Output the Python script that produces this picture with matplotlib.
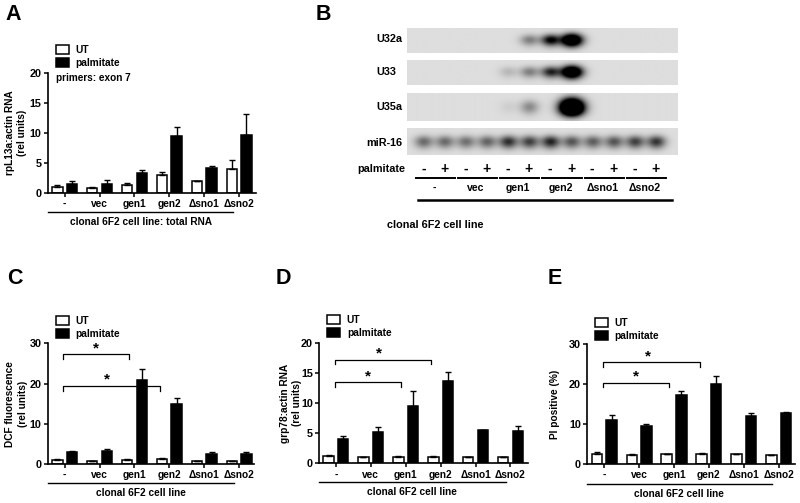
import numpy as np
import matplotlib
matplotlib.use('Agg')
import matplotlib.pyplot as plt

plt.rcParams['font.family'] = ['Liberation Sans', 'DejaVu Sans']
plt.rcParams['font.weight'] = 'bold'
plt.rcParams['font.size'] = 7.3

W, H = 800, 503

groups = ['-', 'vec', 'gen1', 'gen2', 'Δsno1', 'Δsno2']

# panel A
a_ut = [1.0, 0.8, 1.3, 2.9, 1.9, 4.0]
a_ut_err = [0.3, 0.2, 0.3, 0.6, 0.05, 1.4]
a_pal = [1.5, 1.4, 3.3, 9.4, 4.1, 9.6]
a_pal_err = [0.5, 0.8, 0.5, 1.6, 0.4, 3.6]

# panel C
c_ut = [1.0, 0.7, 1.0, 1.3, 0.7, 0.7]
c_ut_err = [0.2, 0.1, 0.2, 0.3, 0.1, 0.1]
c_pal = [3.1, 3.3, 21.0, 15.0, 2.4, 2.4]
c_pal_err = [0.2, 0.5, 2.5, 1.3, 0.7, 0.5]

# panel D
d_ut = [1.2, 1.0, 1.1, 1.1, 1.1, 1.05]
d_ut_err = [0.2, 0.03, 0.1, 0.1, 0.03, 0.03]
d_pal = [4.1, 5.3, 9.5, 13.8, 5.5, 5.4]
d_pal_err = [0.4, 0.7, 2.6, 1.5, 0.1, 0.8]

# panel E
e_ut = [2.5, 2.2, 2.5, 2.4, 2.4, 2.3]
e_ut_err = [0.4, 0.2, 0.1, 0.4, 0.03, 0.03]
e_pal = [11.0, 9.6, 17.2, 20.1, 12.0, 12.7]
e_pal_err = [1.2, 0.4, 1.2, 1.9, 0.9, 0.3]

# blot band strength per lane
u32a = [0, 0, 0, 0, 0, 0.35, 0.85, 1.5, 0, 0, 0, 0]
u33 = [0, 0, 0, 0, 0.14, 0.35, 0.7, 1.5, 0, 0, 0, 0]
u35a = [0, 0, 0, 0, 0.05, 0.28, 0, 2.0, 0, 0, 0, 0]
mir16 = [0.38, 0.38, 0.36, 0.4, 0.58, 0.52, 0.62, 0.45, 0.42, 0.45, 0.52, 0.56]
lane_signs = ['-', '+'] * 6

fig = plt.figure(figsize=(W / 100, H / 100), dpi=100)
over = fig.add_axes([0, 0, 1, 1], zorder=5)
over.set_xlim(0, W)
over.set_ylim(H, 0)
over.axis('off')


def bar_panel(box, ymax, step, ut, ut_err, pal, pal_err, ylabel, ylab_x, legend_xy, brackets):
    left, right, top, bottom = box
    ax = fig.add_axes([left / W, 1 - bottom / H, (right - left) / W, (bottom - top) / H])
    x = np.arange(6)
    ax.bar(x, ut, 0.3, color='white', edgecolor='black', linewidth=1.1, label='UT')
    ax.errorbar(x, ut, yerr=[np.zeros(6), ut_err], fmt='none', ecolor='black', elinewidth=1, capsize=2.4, capthick=1)
    ax.bar(x + 0.42, pal, 0.3, color='black', edgecolor='black', linewidth=1.1, label='palmitate')
    ax.errorbar(x + 0.42, pal, yerr=[np.zeros(6), pal_err], fmt='none', ecolor='black', elinewidth=1, capsize=2.4, capthick=1)
    ax.set_xlim(-0.275, (right - left) / 34.9 - 0.275)
    ax.set_ylim(0, ymax)
    ax.set_yticks(np.arange(0, ymax + 1, step))
    ax.set_xticks(x + 0.21)
    ax.set_xticklabels(groups)
    ax.tick_params(axis='both', width=1.1, length=3, pad=1.5)
    ax.tick_params(axis='y', labelsize=7.8)
    ax.tick_params(axis='x', pad=1.5)
    for s in ['top', 'right']:
        ax.spines[s].set_visible(False)
    for s in ['left', 'bottom']:
        ax.spines[s].set_linewidth(1.2)
    for y, x0, x1, sx in brackets:
        leg = ymax * 0.04
        ax.plot([x0, x0, x1, x1], [y - leg, y, y, y - leg], color='black', lw=0.9, clip_on=False)
        ax.text(sx, y - ymax * 0.008, '*', ha='center', va='bottom', fontsize=11)
    ax.legend(loc='upper left', frameon=False,
              bbox_to_anchor=legend_xy, bbox_transform=over.transData,
              borderaxespad=0, borderpad=0, handlelength=1.27, handleheight=0.95,
              handletextpad=0.66, labelspacing=0.3, fontsize=7.3)
    over.text(ylab_x, (top + bottom) / 2, ylabel, rotation=90, ha='center', va='center',
              multialignment='center', linespacing=1.25, fontsize=7.3)
    return ax


bar_panel((47.7, 256, 72.7, 192.7), 20, 5, a_ut, a_ut_err, a_pal, a_pal_err,
          'rpL13a:actin RNA\n(rel units)', 16, (55.7, 45), [])
bar_panel((47.7, 254, 343.3, 464), 30, 10, c_ut, c_ut_err, c_pal, c_pal_err,
          'DCF fluorescence\n(rel units)', 16.5, (55.7, 316),
          [(27.3, 0.17, 2.055, 1.1), (19.4, 0.17, 2.94, 1.43)])
bar_panel((319, 528, 343.3, 463.3), 20, 5, d_ut, d_ut_err, d_pal, d_pal_err,
          'grp78:actin RNA\n(rel units)', 291, (327.3, 315),
          [(17.3, 0.17, 2.94, 1.45), (13.5, 0.17, 2.07, 1.12)])
bar_panel((587.3, 795, 344.3, 464), 30, 10, e_ut, e_ut_err, e_pal, e_pal_err,
          'PI positive (%)', 555, (595, 318.3),
          [(25.5, 0.17, 2.94, 1.45), (20.4, 0.17, 2.07, 1.12)])

over.text(56, 78.3, 'primers: exon 7', va='center', fontsize=7.2)

# line and caption under each bar panel
for x0, x1, y, cx, cy, txt in [
    (47.7, 233, 211.7, 140.7, 221.7, 'clonal 6F2 cell line: total RNA'),
    (47.7, 234, 482.7, 140.7, 492.7, 'clonal 6F2 cell line'),
    (319, 505.7, 481.7, 412, 492.3, 'clonal 6F2 cell line'),
    (587.3, 772.3, 484, 679.3, 494.3, 'clonal 6F2 cell line'),
]:
    over.plot([x0, x1], [y, y], color='black', lw=1)
    over.text(cx, cy, txt, ha='center', va='center', fontsize=7.3)

# blots
lane_x = 423.3 + 21.1 * np.arange(12)


def blot(y0, y1, bands, sx, sy, smear=0.0):
    xs = np.arange(406.7, 676.7, 0.5)
    ys = np.arange(y0, y1, 0.5)
    xx, yy = np.meshgrid(xs, ys)
    mid = (y0 + y1) / 2 - 1
    amount = np.zeros_like(xx)
    for lx, b in zip(lane_x, bands):
        wide = 1 + 0.25 * max(b - 1, 0)
        amount += b * np.exp(-((xx - lx) / (sx * wide)) ** 2 / 2 - ((yy - mid) / (sy * wide)) ** 2 / 2)
        amount += smear * b * np.exp(-((xx - lx) / (sx * wide)) ** 2 / 2 - ((yy - mid - 5) / sy) ** 2 / 2)
    img = np.clip(0.87 - amount, 0, 1)
    over.imshow(img, cmap='gray', vmin=0, vmax=1, extent=(406.7, 676.7, y1, y0), aspect='auto', interpolation='bilinear')


blot(28.3, 52.7, u32a, 6.5, 3.6, 0.15)
blot(60.7, 85, u33, 6.5, 3.6, 0.15)
blot(92.7, 120.7, u35a, 6.5, 4.4, 0.3)
blot(128.3, 155.3, mir16, 6.5, 3.8, 0.4)
over.set_xlim(0, W)
over.set_ylim(H, 0)

for x, y, name in [(376, 39, 'U32a'), (376, 71.7, 'U33'), (376, 107.3, 'U35a'), (366.7, 142.7, 'miR-16'), (357.3, 169.3, 'palmitate')]:
    over.text(x, y, name, va='center', fontsize=7.8)
for lx, sign in zip(lane_x, lane_signs):
    over.text(lx, 168.5, sign, ha='center', va='center', fontsize=10)
for i, name in enumerate(groups):
    x0 = lane_x[2 * i] - 7
    x1 = lane_x[2 * i + 1] + 11
    over.plot([x0 - 0.5, x1 - 0.5], [178.3, 178.3], color='black', lw=1.4)
    over.text((x0 + x1) / 2 - 2, 187.7, name, ha='center', va='center', fontsize=7.6)
over.plot([418, 672], [200, 200], color='black', lw=1.8)
over.text(386.7, 225.3, 'clonal 6F2 cell line', va='center', fontsize=7.8)

for x, y, letter in [(5, 14, 'A'), (316, 14, 'B'), (7, 279, 'C'), (276, 279, 'D'), (547.3, 278, 'E')]:
    over.text(x, y, letter, va='center', fontsize=15.5)

fig.savefig('out.png', dpi=100)
